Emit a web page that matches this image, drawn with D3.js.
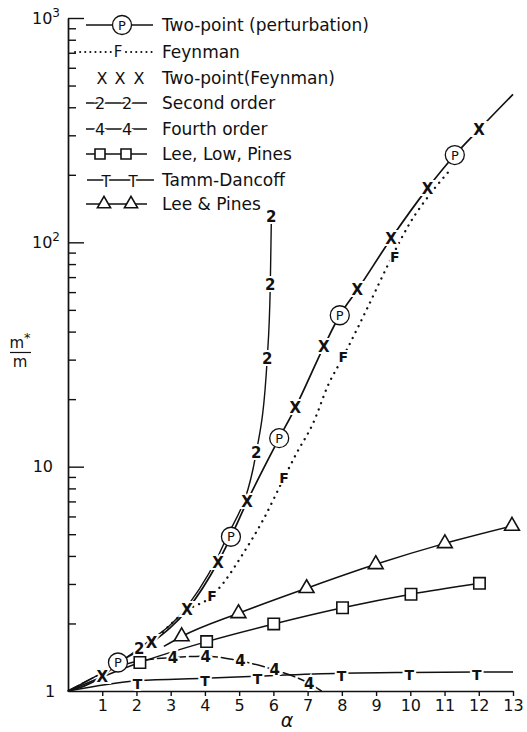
<!DOCTYPE html>
<html>
<head>
<meta charset="utf-8">
<script src="https://cdn.jsdelivr.net/npm/d3@7/dist/d3.min.js"></script>
<style>
  body { margin: 0; background: #fff; }
  text { font-family: "DejaVu Sans", sans-serif; fill: #111; }
</style>
</head>
<body>
<div id="chart"></div>
<script>
// values: alpha (x) vs m*/m (log y)

// two-point (perturbation): solid curve + P circles
var pLineAlpha = [0, 1.0, 1.46, 2.44, 3.48, 4.38, 4.76, 5.23, 6.17, 6.64, 7.47, 7.94, 8.45, 9.44, 10.5, 11.3, 12.01, 13];
var pLineValue = [1, 1.16, 1.33, 1.64, 2.3, 3.75, 4.87, 6.98, 13.4, 18.3, 34.2, 47.3, 61.3, 104, 174, 245, 319, 457];
var pAlpha = [1.46, 4.76, 6.17, 7.94, 11.3];
var pValue = [1.34, 4.87, 13.4, 47.3, 245];

// two-point (Feynman): X marks only
var xAlpha = [1.0, 2.44, 3.48, 4.38, 5.23, 6.64, 7.47, 8.45, 9.44, 10.5, 12.01];
var xValue = [1.16, 1.64, 2.3, 3.75, 6.98, 18.3, 34.2, 61.3, 104, 174, 319];

// Feynman: dotted curve + F marks
var fLineAlpha = [2.5, 3.46, 4.2, 4.53, 5.12, 5.7, 6.31, 6.68, 7.16, 7.6, 8.04, 8.72, 9.41, 9.99, 10.67, 11.16];
var fLineValue = [1.66, 2.28, 2.65, 3.02, 4.11, 5.79, 8.9, 11.5, 15.6, 23.1, 30.9, 50, 83, 122, 171, 210];
var fAlpha = [4.21, 6.31, 8.04, 9.55];
var fValue = [2.65, 8.9, 30.9, 86];

// second order
var secLineAlpha = [0, 2.08, 3.5, 4.6, 5.5, 5.82, 5.91, 5.94];
var secLineValue = [1, 1.55, 2.4, 4.7, 11.6, 30.4, 64.5, 125];
var secAlpha = [2.08, 5.5, 5.82, 5.91, 5.94];
var secValue = [1.55, 11.6, 30.4, 64.5, 130];

// fourth order
var fourLineAlpha = [0, 2.05, 3.07, 4.02, 5.04, 6.04, 7.05, 7.4];
var fourLineValue = [1, 1.36, 1.41, 1.43, 1.36, 1.24, 1.08, 1.0];
var fourAlpha = [3.07, 4.02, 5.04, 6.04, 7.05];
var fourValue = [1.41, 1.43, 1.36, 1.24, 1.08];

// Lee, Low, Pines (squares)
var llpAlpha = [2.1, 4.05, 6.01, 8.02, 10.02, 12.02];
var llpValue = [1.34, 1.66, 1.99, 2.35, 2.70, 3.02];

// Tamm-Dancoff
var tdLineAlpha = [0, 2.03, 4, 5.54, 7.99, 9.97, 11.94, 13];
var tdLineValue = [1, 1.11, 1.14, 1.165, 1.2, 1.21, 1.215, 1.215];
var tdAlpha = [2.03, 4, 5.54, 7.99, 9.97, 11.94];

// Lee & Pines (triangles)
var lpLineStart = [2.8, 1.58];
var lpAlpha = [3.32, 4.98, 6.97, 8.99, 11.01, 12.97];
var lpValue = [1.75, 2.22, 2.87, 3.67, 4.55, 5.44];

var xTicks = d3.range(1, 14);
var yMajor = [10, 100, 1000];
var yMinor = [2,3,4,5,6,7,8,9,20,30,40,50,60,70,80,90,200,300,400,500,600,700,800,900];

var legendLabels = ["Two-point (perturbation)", "Feynman", "Two-point(Feynman)", "Second order",
                    "Fourth order", "Lee, Low, Pines", "Tamm-Dancoff", "Lee & Pines"];

function pairs(a, v) { return a.map(function(d, i) { return [d, v[i]]; }); }

var W = 527, H = 732;
var margin = {top: 18, left: 68, right: 14, bottom: 41};
var width = W - margin.left - margin.right,
    height = H - margin.top - margin.bottom;

var svg = d3.select("#chart").append("svg")
    .attr("width", W).attr("height", H);
var g = svg.append("g")
    .attr("transform", "translate(" + margin.left + "," + margin.top + ")");

var x = d3.scaleLinear().domain([0, 13]).range([0, width]);
var y = d3.scaleLog().domain([1, 1000]).range([height, 0]);

// axes
var xa = g.append("g")
    .attr("transform", "translate(0," + height + ")")
    .call(d3.axisBottom(x).tickValues(xTicks).tickSize(5).tickSizeOuter(0).tickPadding(4));
xa.selectAll("text").attr("font-size", 16).attr("font-family", null);

var ya1 = g.append("g").call(d3.axisRight(y).tickValues(yMinor).tickSize(8).tickSizeOuter(0).tickFormat(""));
var ya2 = g.append("g").call(d3.axisRight(y).tickValues(yMajor).tickSize(16).tickSizeOuter(0).tickFormat(""));
g.selectAll(".domain, .tick line").attr("stroke", "#111").attr("stroke-width", 1.4);

// y tick labels
g.append("text").attr("x", -18).attr("y", y(1)).attr("dy", "0.35em")
  .attr("text-anchor", "middle").attr("font-size", 16).text("1");
g.append("text").attr("x", -15).attr("y", y(10)).attr("dy", "0.35em")
  .attr("text-anchor", "end").attr("font-size", 16).text("10");
[[100, "2"], [1000, "3"]].forEach(function(d) {
  var t = g.append("text").attr("x", -36).attr("y", y(d[0])).attr("dy", "0.35em")
    .attr("font-size", 16);
  t.append("tspan").text("10");
  t.append("tspan").attr("dy", "-0.55em").attr("font-size", 12).text(d[1]);
});

// axis titles
svg.append("text").attr("x", 287).attr("y", 727).attr("text-anchor", "middle")
  .attr("font-size", 19).attr("font-style", "italic").text("α");
var yl = svg.append("g");
yl.append("text").attr("x", 20).attr("y", 348).attr("text-anchor", "middle").attr("font-size", 15)
  .call(function(t) { t.append("tspan").text("m"); t.append("tspan").attr("dy", "-0.5em").attr("font-size", 13).text("*"); });
yl.append("line").attr("x1", 10).attr("x2", 31).attr("y1", 352.5).attr("y2", 352.5)
  .attr("stroke", "#111").attr("stroke-width", 1.2);
yl.append("text").attr("x", 20).attr("y", 367).attr("text-anchor", "middle").attr("font-size", 15).text("m");

// lines
var line = d3.line().x(function(d) { return x(d[0]); }).y(function(d) { return y(d[1]); })
  .curve(d3.curveMonotoneX);

function drawLine(data, dash, sw) {
  return g.append("path").datum(data)
    .attr("fill", "none").attr("stroke", "#111")
    .attr("stroke-width", sw || 1.5)
    .attr("stroke-linecap", dash ? "round" : "butt")
    .attr("stroke-dasharray", dash || null)
    .attr("d", line);
}

drawLine(pairs(tdLineAlpha, tdLineValue));
drawLine([[0, 1]].concat(pairs(llpAlpha, llpValue)));
drawLine([lpLineStart].concat(pairs(lpAlpha, lpValue)));
drawLine(pairs(fourLineAlpha, fourLineValue), "12,4");
drawLine(pairs(secLineAlpha, secLineValue), null, 1.4);
drawLine(pairs(fLineAlpha, fLineValue), "0.1,6.5", 2.3);
drawLine(pairs(pLineAlpha, pLineValue), null, 1.7);

// text marks with a white halo so lines break around them
function textMarks(data, label, size, dy) {
  g.selectAll(null).data(data).enter().append("text")
    .attr("x", function(d) { return x(d[0]); })
    .attr("y", function(d) { return y(d[1]); })
    .attr("dy", dy || "0.36em")
    .attr("text-anchor", "middle")
    .attr("font-size", size).attr("font-weight", "bold")
    .attr("stroke", "#fff").attr("stroke-width", 4).attr("paint-order", "stroke")
    .text(label);
}

textMarks(pairs(tdAlpha, tdAlpha.map(function(a) {
  return tdLineValue[tdLineAlpha.indexOf(a)];
})), "T", 14, "0.55em");
textMarks(pairs(fourAlpha, fourValue), "4", 15);
textMarks(pairs(secAlpha, secValue), "2", 15);
textMarks(pairs(fAlpha, fValue), "F", 14);
textMarks(pairs(xAlpha, xValue), "X", 15);

g.selectAll(null).data(pairs(llpAlpha, llpValue)).enter().append("path")
  .attr("transform", function(d) { return "translate(" + x(d[0]) + "," + y(d[1]) + ")"; })
  .attr("d", d3.symbol(d3.symbolSquare, 130))
  .attr("fill", "#fff").attr("stroke", "#111").attr("stroke-width", 1.6);

g.selectAll(null).data(pairs(lpAlpha, lpValue)).enter().append("path")
  .attr("transform", function(d) { return "translate(" + x(d[0]) + "," + y(d[1]) + ")"; })
  .attr("d", d3.symbol(d3.symbolTriangle, 95))
  .attr("fill", "#fff").attr("stroke", "#111").attr("stroke-width", 1.6);

var pm = g.selectAll(null).data(pairs(pAlpha, pValue)).enter().append("g")
  .attr("transform", function(d) { return "translate(" + x(d[0]) + "," + y(d[1]) + ")"; });
pm.append("circle").attr("r", 9.5).attr("fill", "#fff").attr("stroke", "#111").attr("stroke-width", 1.3);
pm.append("text").attr("text-anchor", "middle").attr("dy", "0.36em").attr("font-size", 13).text("P");

// legend
var rowY = [25, 52, 78, 103, 129, 154, 180, 204];
var lg = svg.append("g");
lg.selectAll(null).data(legendLabels).enter().append("text")
  .attr("x", 162).attr("y", function(d, i) { return rowY[i]; })
  .attr("dy", "0.36em").attr("font-size", 17).text(function(d) { return d; });

function legLine(i, x1, x2, dash, sw) {
  lg.append("line").attr("x1", x1).attr("x2", x2).attr("y1", rowY[i]).attr("y2", rowY[i])
    .attr("stroke", "#111").attr("stroke-width", sw || 1.6)
    .attr("stroke-linecap", dash ? "round" : "butt")
    .attr("stroke-dasharray", dash || null);
}
function legText(i, xs, label, size, dy) {
  xs.forEach(function(xx) {
    lg.append("text").attr("x", xx).attr("y", rowY[i]).attr("dy", dy || "0.36em")
      .attr("text-anchor", "middle").attr("font-size", size)
      .attr("stroke", "#fff").attr("stroke-width", 4).attr("paint-order", "stroke").text(label);
  });
}

legLine(0, 86, 153);
lg.append("circle").attr("cx", 122).attr("cy", rowY[0]).attr("r", 9.5)
  .attr("fill", "#fff").attr("stroke", "#111").attr("stroke-width", 1.3);
lg.append("text").attr("x", 122).attr("y", rowY[0]).attr("dy", "0.36em")
  .attr("text-anchor", "middle").attr("font-size", 13).text("P");

legLine(1, 75, 152, "0.1,5", 2);
legText(1, [118], "F", 15);

legText(2, [102, 120, 139], "X", 16);

legLine(3, 86, 147);
legText(3, [100, 127], "2", 16);
legLine(4, 86, 147);
legText(4, [100, 127], "4", 16);
legLine(5, 86, 147);
[100, 126].forEach(function(xx) {
  lg.append("path").attr("transform", "translate(" + xx + "," + rowY[5] + ")")
    .attr("d", d3.symbol(d3.symbolSquare, 100))
    .attr("fill", "#fff").attr("stroke", "#111").attr("stroke-width", 1.6);
});
legLine(6, 87, 154);
legText(6, [106, 133], "T", 15, "0.45em");
legLine(7, 86, 147);
[104, 131].forEach(function(xx) {
  lg.append("path").attr("transform", "translate(" + xx + "," + rowY[7] + ")")
    .attr("d", d3.symbol(d3.symbolTriangle, 75))
    .attr("fill", "#fff").attr("stroke", "#111").attr("stroke-width", 1.6);
});
</script>
</body>
</html>
